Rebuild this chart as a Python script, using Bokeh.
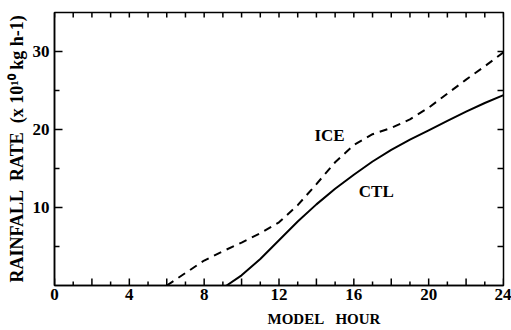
from bokeh.plotting import figure
from bokeh.models import LinearAxis, FixedTicker, Range1d, Label
from bokeh.embed import file_html
from bokeh.resources import INLINE

# ---- data ----
ice_hour = [6.0, 7, 8, 9, 10, 11, 12, 13, 14, 15, 16, 17, 18, 19, 20, 21, 22, 23, 24]
ice_rate = [0.0, 1.6, 3.2, 4.4, 5.5, 6.7, 8.1, 10.3, 13.0, 15.8, 18.0, 19.4, 20.2, 21.3, 22.8, 24.6, 26.4, 28.1, 29.9]

ctl_hour = [9.2, 10, 11, 12, 13, 14, 15, 16, 17, 18, 19, 20, 21, 22, 23, 24]
ctl_rate = [0.0, 1.3, 3.4, 5.8, 8.2, 10.4, 12.4, 14.2, 15.9, 17.4, 18.7, 19.9, 21.1, 22.3, 23.4, 24.4]

x_lo, x_hi = 0, 24
y_lo, y_hi = 0, 35
x_labelled = [0, 4, 8, 12, 16, 20, 24]
x_even = list(range(0, 25, 2))
x_odd = list(range(1, 24, 2))
x_all = list(range(0, 25))
y_major = [10, 20, 30]
y_minor = [5, 15, 25]
y_right = [5, 10, 15, 20, 25, 30]

FONT = "Liberation Serif"
FRAME_W, FRAME_H = 449, 273
dx = (x_hi - x_lo) / FRAME_W   # data units per pixel, x
dy = (y_hi - y_lo) / FRAME_H   # data units per pixel, y

p = figure(width=511, height=330, output_backend="svg", toolbar_location=None,
           x_range=Range1d(x_lo, x_hi), y_range=Range1d(y_lo, y_hi),
           min_border_left=54, min_border_right=8, min_border_top=12, min_border_bottom=45,
           x_axis_location=None, y_axis_location=None)
p.grid.visible = False
p.outline_line_color = "black"
p.outline_line_width = 1.5
p.background_fill_color = "white"
p.border_fill_color = "white"

# bottom axis
xb = LinearAxis(ticker=FixedTicker(ticks=x_labelled, minor_ticks=[]))
xb.major_tick_in = 0
xb.major_tick_out = 0
xb.minor_tick_in = 0
xb.minor_tick_out = 0
xb.major_label_standoff = 3
xb.major_label_text_font = FONT
xb.major_label_text_font_style = "bold"
xb.major_label_text_font_size = "17px"
xb.major_label_text_color = "black"
xb.axis_line_width = 1.5
pad = "\u2003" * 6
xb.axis_label = pad + "MODEL\u00a0\u00a0 HOUR"
xb.axis_label_standoff = 8
xb.axis_label_text_font = FONT
xb.axis_label_text_font_style = "bold"
xb.axis_label_text_font_size = "15px"
xb.axis_label_text_color = "black"
p.add_layout(xb, "below")

# left axis (ticks drawn by the axis itself, pointing inward)
yl = LinearAxis(ticker=FixedTicker(ticks=y_major, minor_ticks=y_minor))
yl.major_tick_in = 8
yl.major_tick_out = 0
yl.minor_tick_in = 5
yl.minor_tick_out = 0
yl.major_tick_line_width = 1.5
yl.minor_tick_line_width = 1.5
yl.major_tick_line_color = "black"
yl.minor_tick_line_color = "black"
yl.major_label_standoff = 5
yl.major_label_text_font = FONT
yl.major_label_text_font_style = "bold"
yl.major_label_text_font_size = "17px"
yl.major_label_text_color = "black"
yl.axis_label = "RAINFALL\u00a0 RATE\u00a0 (x\u00a010\u00b9\u2070 kg h-1)"
yl.axis_label_text_font = FONT
yl.axis_label_text_font_style = "bold"
yl.axis_label_text_font_size = "18px"
yl.axis_label_text_color = "black"
yl.axis_label_standoff = 3
yl.axis_line_width = 1.5
p.add_layout(yl, "left")

# inward tick marks on bottom, top and right edges as short segments
tick = dict(line_color="black", line_width=1.5)
p.segment(x0=x_even, y0=[y_lo] * len(x_even), x1=x_even, y1=[y_lo + 7 * dy] * len(x_even), **tick)
p.segment(x0=x_odd, y0=[y_lo] * len(x_odd), x1=x_odd, y1=[y_lo + 4 * dy] * len(x_odd), **tick)
p.segment(x0=x_all, y0=[y_hi] * len(x_all), x1=x_all, y1=[y_hi - 5 * dy] * len(x_all), **tick)
p.segment(x0=[x_hi] * len(y_right), y0=y_right, x1=[x_hi - 6 * dx] * len(y_right), y1=y_right, **tick)

# curves
p.line(ice_hour, ice_rate, line_color="black", line_width=2, line_dash="8 6")
p.line(ctl_hour, ctl_rate, line_color="black", line_width=2)

# curve labels
for txt, xx, yy in [("ICE", 14.7, 19.2), ("CTL", 17.2, 12.1)]:
    p.add_layout(Label(x=xx, y=yy, text=txt, text_align="center", text_baseline="middle",
                       text_font=FONT, text_font_style="bold", text_font_size="17px",
                       text_color="black"))

open("out.html", "w").write(file_html(p, INLINE))
